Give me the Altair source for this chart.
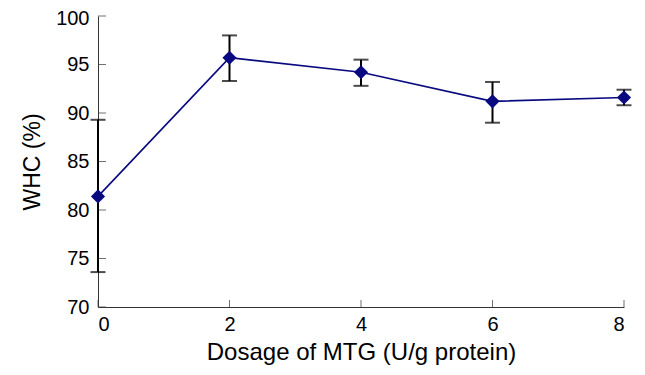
import altair as alt
import pandas as pd

dosage = [0, 2, 4, 6, 8]
whc = [81.4, 95.7, 94.2, 91.2, 91.6]
whc_low = [73.6, 93.3, 92.8, 89.0, 90.8]
whc_high = [89.3, 98.0, 95.5, 93.2, 92.4]
y_ticks = [70, 75, 80, 85, 90, 95, 100]
x_ticks = [0, 2, 4, 6, 8]

df = pd.DataFrame({"dosage": dosage, "whc": whc, "lo": whc_low, "hi": whc_high})
caps = pd.DataFrame({"dosage": dosage * 2, "v": whc_low + whc_high})
ytk = pd.DataFrame({"v": y_ticks})
xtk = pd.DataFrame({"d": x_ticks})

FONT = "Liberation Sans"
xscale = alt.Scale(domain=[0, 8], nice=False, zero=False)
yscale = alt.Scale(domain=[70, 100], nice=False, zero=False)

xenc = alt.X("dosage:Q", scale=xscale,
             axis=alt.Axis(title="Dosage of MTG (U/g protein)", values=x_ticks, ticks=False,
                           labelPadding=7, titlePadding=6, titleFontSize=24, format="d"))
yenc = alt.Y("whc:Q", scale=yscale,
             axis=alt.Axis(title="WHC (%)", values=y_ticks, ticks=False,
                           labelPadding=9, titlePadding=11, titleFontSize=23,
                           labelOffset={"condition": {"test": "datum.value == 100", "value": 2}, "value": 0}))

base = alt.Chart(df)

line = base.mark_line(color="#0a0a80", strokeWidth=1.6).encode(x=xenc, y=yenc)

err = base.mark_rule(color="black", strokeWidth=2).encode(
    x=alt.X("dosage:Q", scale=xscale), y=alt.Y("lo:Q", scale=yscale), y2="hi:Q")

cap = alt.Chart(caps).mark_tick(color="black", thickness=2, size=15, orient="horizontal").encode(
    x=alt.X("dosage:Q", scale=xscale), y=alt.Y("v:Q", scale=yscale))

pts = base.mark_point(shape="diamond", filled=True, size=200, color="#0a0a80", opacity=1).encode(
    x=alt.X("dosage:Q", scale=xscale), y=alt.Y("whc:Q", scale=yscale))

yticks = alt.Chart(ytk).mark_tick(color="#333333", thickness=1, size=8, orient="horizontal", xOffset=4).encode(
    x=alt.datum(0, scale=xscale), y=alt.Y("v:Q", scale=yscale))

xticks = alt.Chart(xtk).mark_tick(color="#333333", thickness=1, size=7, orient="vertical", yOffset=-3.5).encode(
    x=alt.X("d:Q", scale=xscale), y=alt.datum(70, scale=yscale))

chart = alt.layer(yticks, xticks, line, err, cap, pts).properties(
    width=526, height=291,
    padding={"left": 90, "top": 8, "right": 10, "bottom": 60},
    autosize="none",
).configure_view(stroke=None).configure_axis(
    grid=False, domainColor="#333333", domainWidth=1,
    labelFont=FONT, titleFont=FONT, labelFontSize=20,
    labelColor="black", titleColor="black", titleFontWeight="normal",
)

chart.save("out.html", embed_options={"renderer": "svg", "actions": False})
